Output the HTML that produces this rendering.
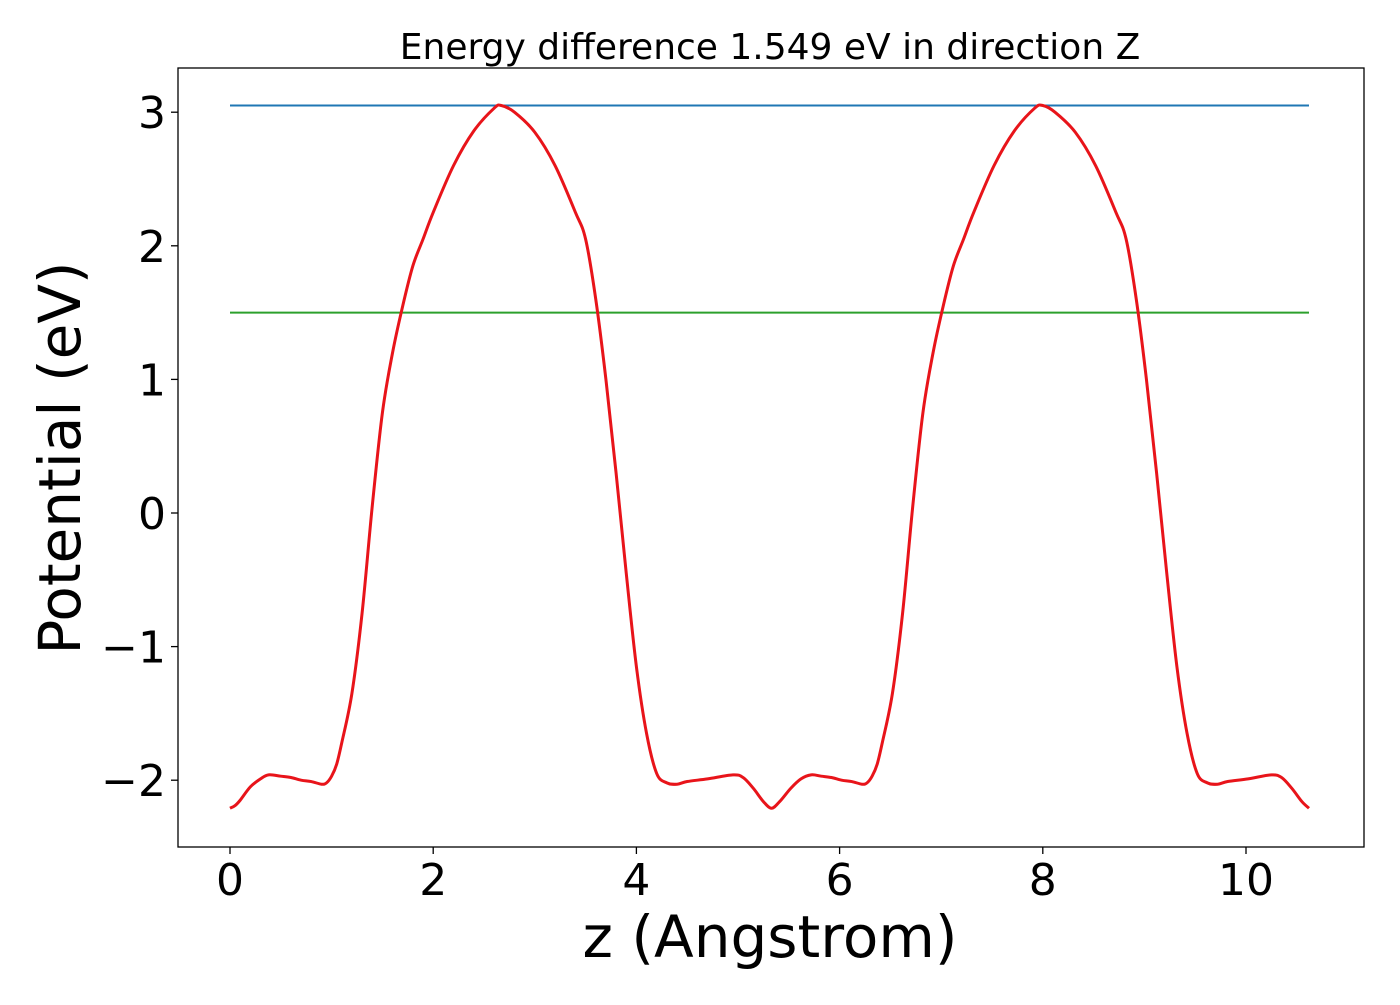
<!DOCTYPE html>
<html><head><meta charset="utf-8"><style>
body{margin:0;background:#fff;}
svg text{font-family:"DejaVu Sans","Liberation Sans",sans-serif;fill:#000;}
</style></head><body>
<svg id="chart" width="1400" height="1000" xmlns="http://www.w3.org/2000/svg">
<rect x="0" y="0" width="1400" height="1000" fill="#fff"/>
<g id="plot"></g>
<rect x="178" y="68" width="1186" height="779" fill="none" stroke="#000" stroke-width="1.3"/>
<text x="770" y="59" font-size="36" text-anchor="middle">Energy difference 1.549 eV in direction Z</text>
<text x="770" y="957" font-size="58" text-anchor="middle">z (Angstrom)</text>
<text transform="translate(80,458) rotate(-90)" font-size="58" text-anchor="middle">Potential (eV)</text>
</svg>
<script>
const xTicks=[0,2,4,6,8,10];
const yTicks=[-2,-1,0,1,2,3];
const blueLevel=3.05;
const greenLevel=1.50;
const zVals=[0,0.05,0.1,0.2,0.3,0.38,0.5,0.6,0.7,0.8,0.9,0.95,1.0,1.05,1.1,1.2,1.3,1.4,1.5,1.6,1.7,1.8,1.9,2.0,2.2,2.4,2.6,2.67,2.8,3.0,3.2,3.4,3.5,3.6,3.7,3.8,3.9,4.0,4.1,4.2,4.3,4.4,4.5,4.7,4.95,5.05,5.15,5.25,5.33,5.41,5.52,5.62,5.72,5.82,5.92,6.02,6.12,6.22,6.27,6.32,6.37,6.42,6.52,6.62,6.72,6.82,6.92,7.02,7.12,7.22,7.32,7.52,7.72,7.92,8.0,8.12,8.32,8.52,8.72,8.82,8.92,9.02,9.12,9.22,9.32,9.42,9.52,9.62,9.72,9.82,10.02,10.25,10.35,10.45,10.55,10.62];
const vVals=[-2.21,-2.19,-2.15,-2.05,-1.99,-1.96,-1.97,-1.98,-2.0,-2.01,-2.03,-2.02,-1.97,-1.88,-1.72,-1.35,-0.75,0.05,0.75,1.2,1.55,1.85,2.05,2.25,2.6,2.86,3.03,3.05,3.0,2.85,2.6,2.25,2.05,1.6,1.0,0.3,-0.45,-1.15,-1.65,-1.95,-2.02,-2.03,-2.01,-1.99,-1.96,-1.98,-2.06,-2.16,-2.21,-2.16,-2.06,-1.99,-1.96,-1.97,-1.98,-2.0,-2.01,-2.03,-2.02,-1.97,-1.88,-1.72,-1.35,-0.75,0.05,0.75,1.2,1.55,1.85,2.05,2.25,2.6,2.86,3.03,3.05,3.0,2.85,2.6,2.25,2.05,1.6,1.0,0.3,-0.45,-1.15,-1.65,-1.95,-2.02,-2.03,-2.01,-1.99,-1.96,-1.98,-2.06,-2.16,-2.21];
const X=v=>230+v*101.6;
const Y=v=>513-v*133.6;
const NS='http://www.w3.org/2000/svg';
const g=document.getElementById('plot');
function el(t,a){const e=document.createElementNS(NS,t);for(const k in a)e.setAttribute(k,a[k]);g.appendChild(e);return e;}
xTicks.forEach(t=>{
 const l=el('line',{x1:X(t),x2:X(t),y1:847,y2:854,stroke:'#000','stroke-width':1.3});
 
 
 const tx=el('text',{x:X(t),y:895,'font-size':44,'text-anchor':'middle'});
 tx.textContent=String(t);
 
 
});
yTicks.forEach(t=>{
 const l=el('line',{x1:171,x2:178,y1:Y(t),y2:Y(t),stroke:'#000','stroke-width':1.3});
 
 
 const tx=el('text',{x:166,y:Y(t)+16,'font-size':44,'text-anchor':'end'});
 tx.textContent=(t<0?'\u2212':'')+Math.abs(t);
 
 
});
const x0=X(zVals[0]),x1=X(zVals[zVals.length-1]);
const b=el('line',{x1:x0,x2:x1,y1:Y(blueLevel),y2:Y(blueLevel),stroke:'#1f77b4','stroke-width':2});


const gr=el('line',{x1:x0,x2:x1,y1:Y(greenLevel),y2:Y(greenLevel),stroke:'#2ca02c','stroke-width':2});


const pts=zVals.map((z,i)=>[X(z),Y(vVals[i])]);
let d='M'+pts[0][0]+','+pts[0][1];
for(let i=0;i<pts.length-1;i++){
 const p0=pts[Math.max(0,i-1)],p1=pts[i],p2=pts[i+1],p3=pts[Math.min(pts.length-1,i+2)];
 const c1=[p1[0]+(p2[0]-p0[0])/6,p1[1]+(p2[1]-p0[1])/6];
 const c2=[p2[0]-(p3[0]-p1[0])/6,p2[1]-(p3[1]-p1[1])/6];
 d+=' C'+c1+' '+c2+' '+p2;
}
const r=el('path',{d:d,fill:'none',stroke:'#e8141a','stroke-width':3});


</script>
</body></html>
